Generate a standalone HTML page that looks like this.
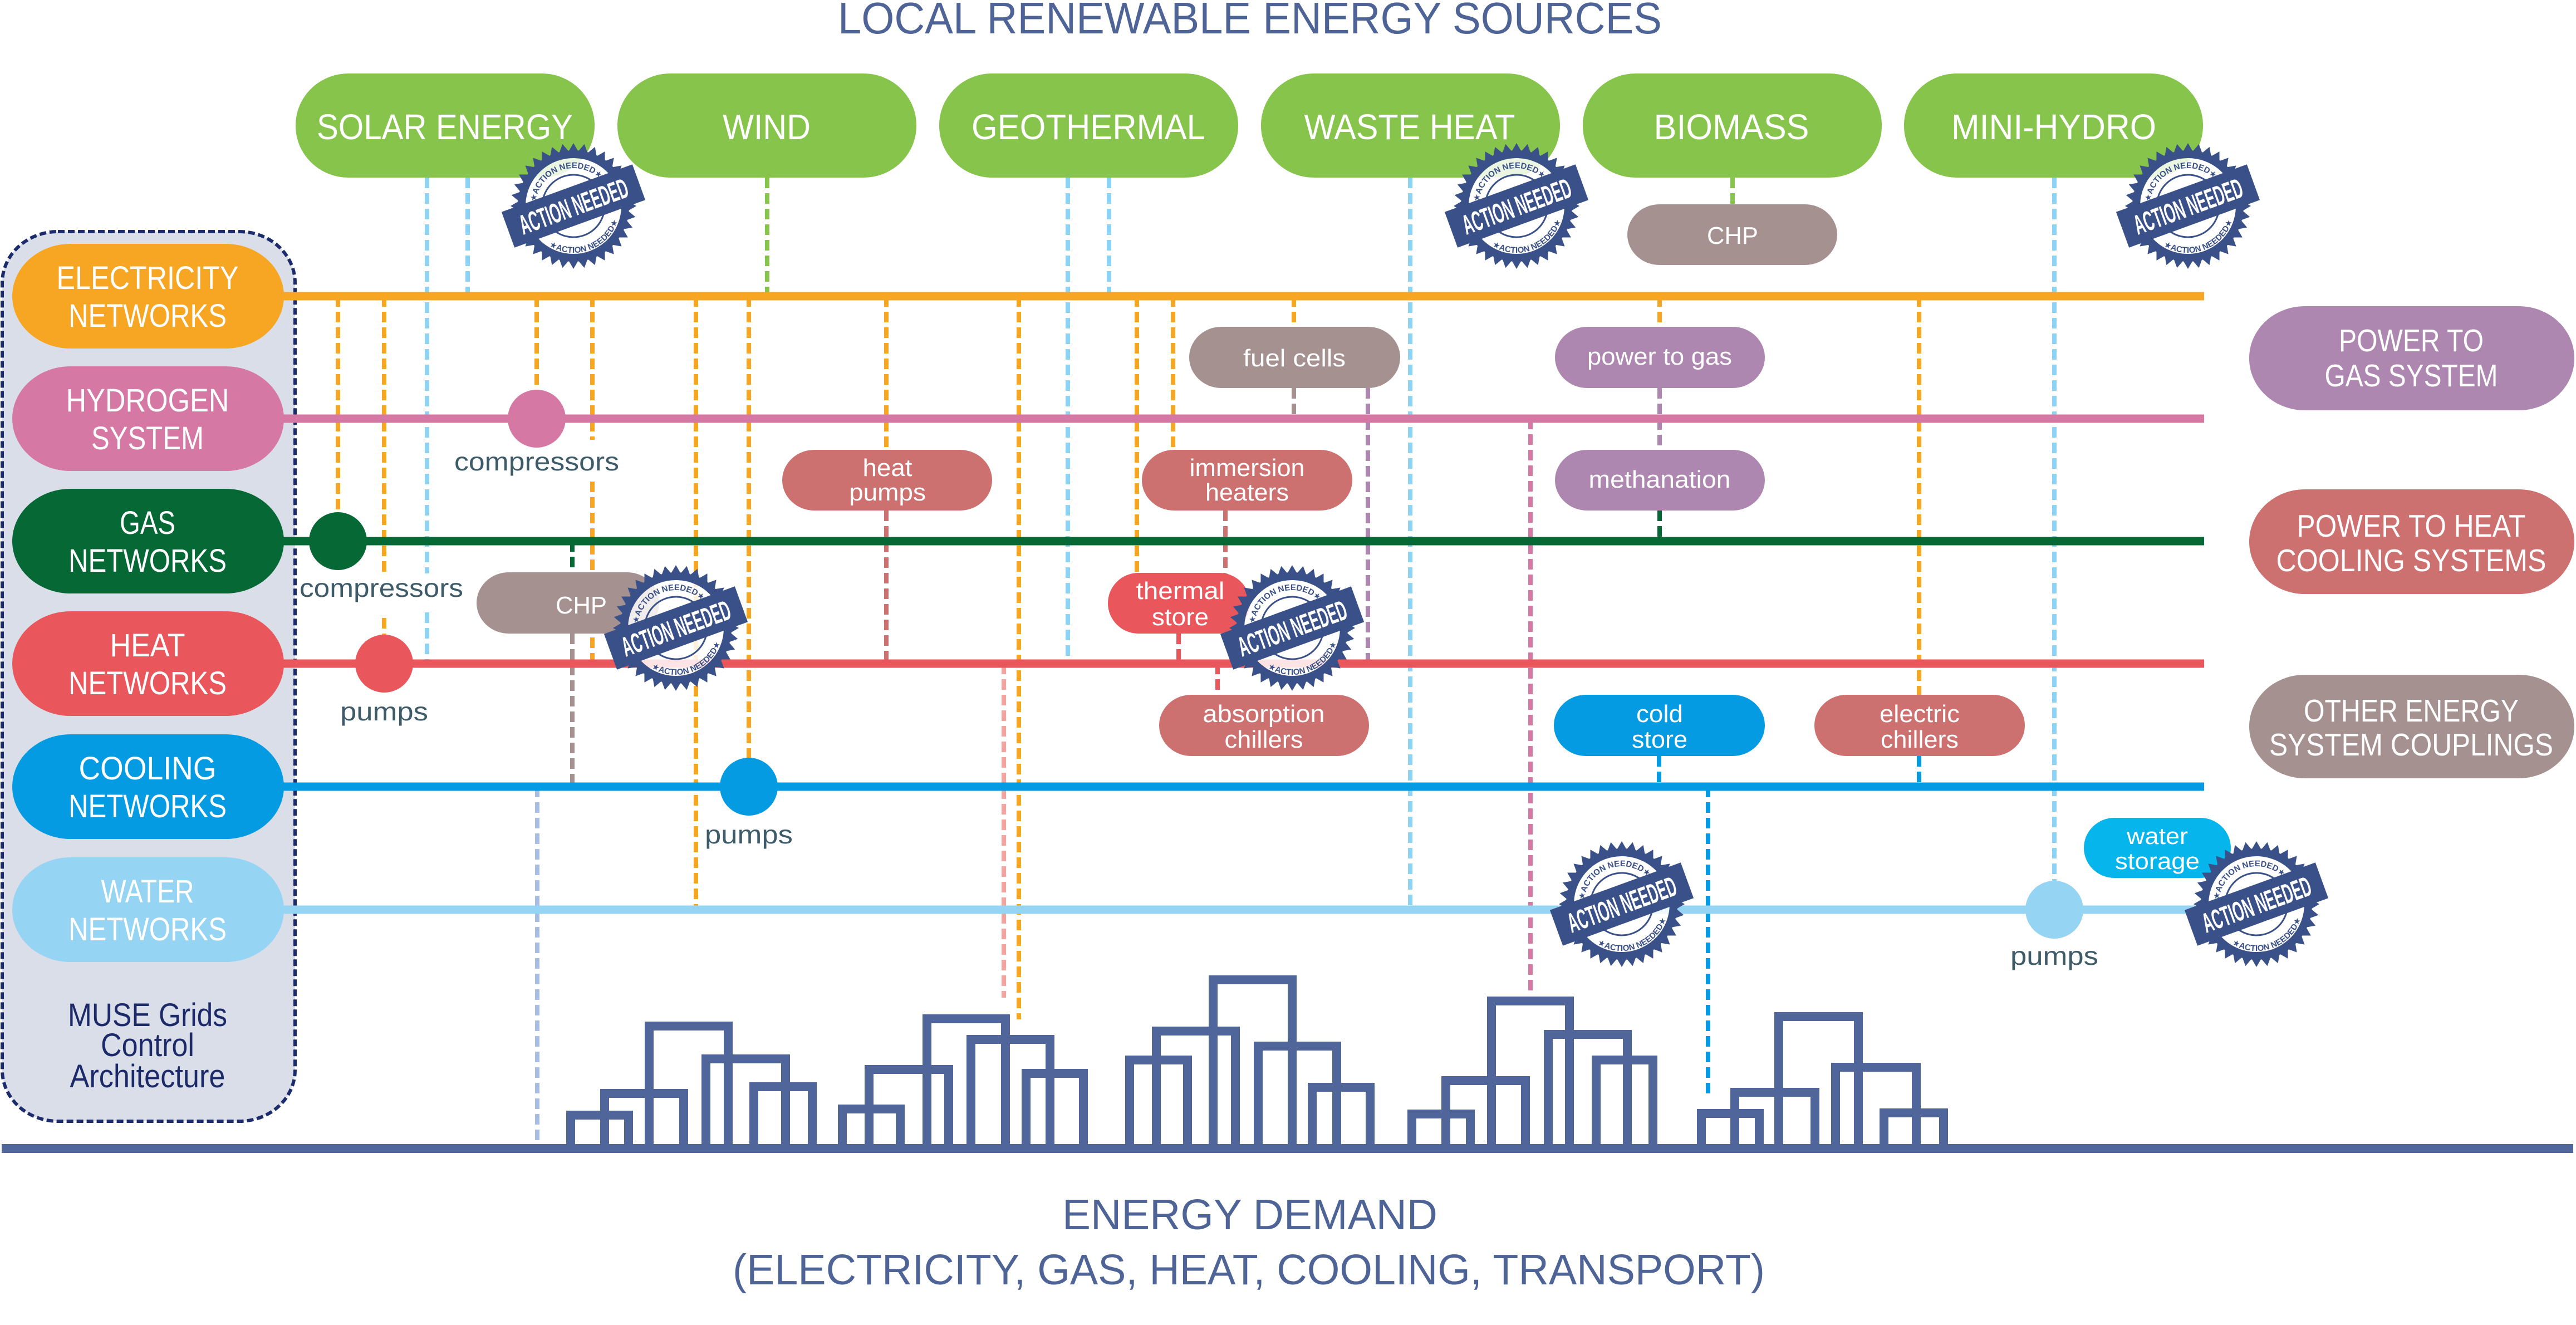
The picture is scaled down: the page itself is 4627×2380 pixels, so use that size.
<!DOCTYPE html>
<html><head><meta charset="utf-8"><style>
html,body{margin:0;padding:0;background:#fff;}
svg{display:block;}
text{font-family:"Liberation Sans","DejaVu Sans",sans-serif;}
</style></head><body>
<svg width="4627" height="2380" viewBox="0 0 4627 2380">
<defs>
<path id="aT" d="M -58.9,34 A 68 68 0 1 1 58.9 34"/>
<path id="aB" d="M -72.7,-42 A 84 84 0 1 0 72.7 -42"/>
<g id="teeth" fill="#3a5088">
<path d="M-8.7,-98 L0,-113 L8.7,-98Z" transform="rotate(0)"/>
<path d="M-8.7,-98 L0,-113 L8.7,-98Z" transform="rotate(10)"/>
<path d="M-8.7,-98 L0,-113 L8.7,-98Z" transform="rotate(20)"/>
<path d="M-8.7,-98 L0,-113 L8.7,-98Z" transform="rotate(30)"/>
<path d="M-8.7,-98 L0,-113 L8.7,-98Z" transform="rotate(40)"/>
<path d="M-8.7,-98 L0,-113 L8.7,-98Z" transform="rotate(50)"/>
<path d="M-8.7,-98 L0,-113 L8.7,-98Z" transform="rotate(60)"/>
<path d="M-8.7,-98 L0,-113 L8.7,-98Z" transform="rotate(70)"/>
<path d="M-8.7,-98 L0,-113 L8.7,-98Z" transform="rotate(80)"/>
<path d="M-8.7,-98 L0,-113 L8.7,-98Z" transform="rotate(90)"/>
<path d="M-8.7,-98 L0,-113 L8.7,-98Z" transform="rotate(100)"/>
<path d="M-8.7,-98 L0,-113 L8.7,-98Z" transform="rotate(110)"/>
<path d="M-8.7,-98 L0,-113 L8.7,-98Z" transform="rotate(120)"/>
<path d="M-8.7,-98 L0,-113 L8.7,-98Z" transform="rotate(130)"/>
<path d="M-8.7,-98 L0,-113 L8.7,-98Z" transform="rotate(140)"/>
<path d="M-8.7,-98 L0,-113 L8.7,-98Z" transform="rotate(150)"/>
<path d="M-8.7,-98 L0,-113 L8.7,-98Z" transform="rotate(160)"/>
<path d="M-8.7,-98 L0,-113 L8.7,-98Z" transform="rotate(170)"/>
<path d="M-8.7,-98 L0,-113 L8.7,-98Z" transform="rotate(180)"/>
<path d="M-8.7,-98 L0,-113 L8.7,-98Z" transform="rotate(190)"/>
<path d="M-8.7,-98 L0,-113 L8.7,-98Z" transform="rotate(200)"/>
<path d="M-8.7,-98 L0,-113 L8.7,-98Z" transform="rotate(210)"/>
<path d="M-8.7,-98 L0,-113 L8.7,-98Z" transform="rotate(220)"/>
<path d="M-8.7,-98 L0,-113 L8.7,-98Z" transform="rotate(230)"/>
<path d="M-8.7,-98 L0,-113 L8.7,-98Z" transform="rotate(240)"/>
<path d="M-8.7,-98 L0,-113 L8.7,-98Z" transform="rotate(250)"/>
<path d="M-8.7,-98 L0,-113 L8.7,-98Z" transform="rotate(260)"/>
<path d="M-8.7,-98 L0,-113 L8.7,-98Z" transform="rotate(270)"/>
<path d="M-8.7,-98 L0,-113 L8.7,-98Z" transform="rotate(280)"/>
<path d="M-8.7,-98 L0,-113 L8.7,-98Z" transform="rotate(290)"/>
<path d="M-8.7,-98 L0,-113 L8.7,-98Z" transform="rotate(300)"/>
<path d="M-8.7,-98 L0,-113 L8.7,-98Z" transform="rotate(310)"/>
<path d="M-8.7,-98 L0,-113 L8.7,-98Z" transform="rotate(320)"/>
<path d="M-8.7,-98 L0,-113 L8.7,-98Z" transform="rotate(330)"/>
<path d="M-8.7,-98 L0,-113 L8.7,-98Z" transform="rotate(340)"/>
<path d="M-8.7,-98 L0,-113 L8.7,-98Z" transform="rotate(350)"/>
</g>
</defs>
<rect x="0" y="0" width="4627" height="2380" fill="#fff"/>

<!-- left control box -->
<rect x="4" y="416" width="526" height="1598" rx="100" ry="92" fill="#d9dee8" stroke="#1c2b6b" stroke-width="6" stroke-dasharray="12 6"/>

<!-- dashed verticals -->
<g stroke-width="8" stroke-dasharray="19 9" fill="none">
<path stroke="#8dd3f5" d="M767 319V1030M767 1100V1192M840 319V532M1918 319V1192M1992 319V532M2533 319V1634M3690 319V1634"/>
<path stroke="#86c44b" d="M1378 319V532M3112 319V367"/>
<path stroke="#f6a623" d="M607 532V972M690 532V1030M690 1110V1192M964 532V752M1064 532V790M1064 865V1192M1250 532V1634M1345 532V1413M1592 532V808M1830 532V1831M2042 532V1029M2107 532V808M2324 532V587M2981 532V587M3447 532V1248"/>
<path stroke="#cd7070" d="M1592 917V1192M2201 917V1030"/>
<path stroke="#056835" d="M1028 972V1028M2981 917V972"/>
<path stroke="#a69191" d="M1028 1138V1413M2324 697V752"/>
<path stroke="#a8bde3" d="M965 1413V2055"/>
<path stroke="#f4a39e" d="M1803 1192V1792"/>
<path stroke="#e9565b" d="M2117 1138V1192M2187 1192V1248"/>
<path stroke="#ad87b0" d="M2457 697V1192M2981 697V808"/>
<path stroke="#d578a3" d="M2749 752V1787"/>
<path stroke="#059be2" d="M2980 1358V1413M3068 1413V1972M3447 1358V1413"/>
</g>

<!-- horizontal network lines -->
<g stroke-width="15" fill="none">
<path stroke="#f6a623" d="M500 532H3959"/>
<path stroke="#d578a3" d="M500 752H3959"/>
<path stroke="#056835" d="M500 972H3959"/>
<path stroke="#e9565b" d="M500 1192H3959"/>
<path stroke="#059be2" d="M500 1413H3959"/>
<path stroke="#96d4f4" d="M500 1634H3959"/>
</g>

<!-- network pills -->
<g fill="#fff" font-size="58" text-anchor="middle">
<rect x="22" y="438" width="488" height="188" rx="105" ry="94" fill="#f6a623"/>
<text x="265" y="519" textLength="327" lengthAdjust="spacingAndGlyphs">ELECTRICITY</text>
<text x="265" y="587" textLength="284" lengthAdjust="spacingAndGlyphs">NETWORKS</text>
<rect x="22" y="658" width="488" height="188" rx="105" ry="94" fill="#d578a3"/>
<text x="265" y="739" textLength="293" lengthAdjust="spacingAndGlyphs">HYDROGEN</text>
<text x="265" y="807" textLength="202" lengthAdjust="spacingAndGlyphs">SYSTEM</text>
<rect x="22" y="878" width="488" height="188" rx="105" ry="94" fill="#056835"/>
<text x="265" y="959" textLength="100" lengthAdjust="spacingAndGlyphs">GAS</text>
<text x="265" y="1027" textLength="284" lengthAdjust="spacingAndGlyphs">NETWORKS</text>
<rect x="22" y="1098" width="488" height="188" rx="105" ry="94" fill="#e9565b"/>
<text x="265" y="1179" textLength="135" lengthAdjust="spacingAndGlyphs">HEAT</text>
<text x="265" y="1247" textLength="284" lengthAdjust="spacingAndGlyphs">NETWORKS</text>
<rect x="22" y="1319" width="488" height="188" rx="105" ry="94" fill="#059be2"/>
<text x="265" y="1400" textLength="247" lengthAdjust="spacingAndGlyphs">COOLING</text>
<text x="265" y="1468" textLength="284" lengthAdjust="spacingAndGlyphs">NETWORKS</text>
<rect x="22" y="1540" width="488" height="188" rx="105" ry="94" fill="#96d4f4"/>
<text x="265" y="1621" textLength="167" lengthAdjust="spacingAndGlyphs">WATER</text>
<text x="265" y="1689" textLength="284" lengthAdjust="spacingAndGlyphs">NETWORKS</text>
</g>

<g fill="#1c2a6a" font-size="58" text-anchor="middle">
<text x="265" y="1843" textLength="286" lengthAdjust="spacingAndGlyphs">MUSE Grids</text>
<text x="265" y="1897" textLength="168" lengthAdjust="spacingAndGlyphs">Control</text>
<text x="265" y="1953" textLength="279" lengthAdjust="spacingAndGlyphs">Architecture</text>
</g>

<!-- green source pills -->
<g fill="#fff" font-size="64" text-anchor="middle">
<rect x="531" y="132" width="537" height="187" rx="95" ry="93" fill="#86c44b"/>
<text x="799" y="250" textLength="460" lengthAdjust="spacingAndGlyphs">SOLAR ENERGY</text>
<rect x="1109" y="132" width="537" height="187" rx="95" ry="93" fill="#86c44b"/>
<text x="1377" y="250" textLength="158" lengthAdjust="spacingAndGlyphs">WIND</text>
<rect x="1687" y="132" width="537" height="187" rx="95" ry="93" fill="#86c44b"/>
<text x="1955" y="250" textLength="420" lengthAdjust="spacingAndGlyphs">GEOTHERMAL</text>
<rect x="2265" y="132" width="537" height="187" rx="95" ry="93" fill="#86c44b"/>
<text x="2532" y="250" textLength="379" lengthAdjust="spacingAndGlyphs">WASTE HEAT</text>
<rect x="2843" y="132" width="537" height="187" rx="95" ry="93" fill="#86c44b"/>
<text x="3110" y="250" textLength="279" lengthAdjust="spacingAndGlyphs">BIOMASS</text>
<rect x="3420" y="132" width="537" height="187" rx="95" ry="93" fill="#86c44b"/>
<text x="3689" y="250" textLength="368" lengthAdjust="spacingAndGlyphs">MINI-HYDRO</text>
</g>

<!-- right side pills -->
<g fill="#fff" font-size="57" text-anchor="middle">
<rect x="4040" y="550" width="584" height="187" rx="100" ry="93" fill="#ad87b0"/>
<text x="4331" y="631" textLength="260" lengthAdjust="spacingAndGlyphs">POWER TO</text>
<text x="4331" y="694" textLength="311" lengthAdjust="spacingAndGlyphs">GAS SYSTEM</text>
<rect x="4040" y="879" width="584" height="188" rx="100" ry="94" fill="#cd7070"/>
<text x="4331" y="964" textLength="411" lengthAdjust="spacingAndGlyphs">POWER TO HEAT</text>
<text x="4331" y="1026" textLength="485" lengthAdjust="spacingAndGlyphs">COOLING SYSTEMS</text>
<rect x="4040" y="1212" width="584" height="186" rx="100" ry="93" fill="#a69191"/>
<text x="4331" y="1296" textLength="386" lengthAdjust="spacingAndGlyphs">OTHER ENERGY</text>
<text x="4331" y="1357" textLength="510" lengthAdjust="spacingAndGlyphs">SYSTEM COUPLINGS</text>
</g>

<!-- small component pills -->
<g fill="#fff" font-size="44" text-anchor="middle">
<rect x="1405" y="808" width="377" height="109" rx="58" ry="55" fill="#cd7070"/>
<text x="1594" y="855" textLength="89" lengthAdjust="spacingAndGlyphs">heat</text>
<text x="1594" y="899" textLength="138" lengthAdjust="spacingAndGlyphs">pumps</text>
<rect x="2136" y="587" width="379" height="110" rx="58" ry="55" fill="#a69191"/>
<text x="2325" y="658" textLength="184" lengthAdjust="spacingAndGlyphs">fuel cells</text>
<rect x="2793" y="587" width="377" height="110" rx="58" ry="55" fill="#ad87b0"/>
<text x="2981" y="655" textLength="260" lengthAdjust="spacingAndGlyphs">power to gas</text>
<rect x="2793" y="808" width="377" height="109" rx="58" ry="55" fill="#ad87b0"/>
<text x="2981" y="876" textLength="255" lengthAdjust="spacingAndGlyphs">methanation</text>
<rect x="2051" y="808" width="378" height="109" rx="58" ry="55" fill="#cd7070"/>
<text x="2240" y="855" textLength="207" lengthAdjust="spacingAndGlyphs">immersion</text>
<text x="2240" y="899" textLength="150" lengthAdjust="spacingAndGlyphs">heaters</text>
<rect x="2923" y="367" width="377" height="109" rx="58" ry="55" fill="#a69191"/>
<text x="3112" y="438" textLength="92" lengthAdjust="spacingAndGlyphs">CHP</text>
<rect x="856" y="1028" width="328" height="110" rx="58" ry="55" fill="#a69191"/>
<text x="1044" y="1102" textLength="92" lengthAdjust="spacingAndGlyphs">CHP</text>
<rect x="1990" y="1029" width="255" height="109" rx="55" ry="55" fill="#e9565b"/>
<text x="2120" y="1076" textLength="159" lengthAdjust="spacingAndGlyphs">thermal</text>
<text x="2120" y="1123" textLength="102" lengthAdjust="spacingAndGlyphs">store</text>
<rect x="2082" y="1248" width="377" height="110" rx="58" ry="55" fill="#cd7070"/>
<text x="2270" y="1297" textLength="219" lengthAdjust="spacingAndGlyphs">absorption</text>
<text x="2270" y="1343" textLength="141" lengthAdjust="spacingAndGlyphs">chillers</text>
<rect x="2791" y="1248" width="379" height="110" rx="58" ry="55" fill="#059be2"/>
<text x="2981" y="1297" textLength="84" lengthAdjust="spacingAndGlyphs">cold</text>
<text x="2981" y="1343" textLength="100" lengthAdjust="spacingAndGlyphs">store</text>
<rect x="3259" y="1248" width="378" height="110" rx="58" ry="55" fill="#cd7070"/>
<text x="3448" y="1297" textLength="144" lengthAdjust="spacingAndGlyphs">electric</text>
<text x="3448" y="1343" textLength="140" lengthAdjust="spacingAndGlyphs">chillers</text>
<rect x="3743" y="1469" width="264" height="108" rx="55" ry="54" fill="#05b5ec"/>
<text x="3875" y="1516" font-size="42" textLength="110" lengthAdjust="spacingAndGlyphs">water</text>
<text x="3875" y="1561" font-size="42" textLength="152" lengthAdjust="spacingAndGlyphs">storage</text>
</g>

<!-- junction circles -->
<circle cx="607" cy="972" r="52" fill="#056835"/>
<circle cx="690" cy="1192" r="52" fill="#e9565b"/>
<circle cx="964" cy="752" r="52" fill="#d578a3"/>
<circle cx="1345" cy="1413" r="52" fill="#059be2"/>
<circle cx="3690" cy="1634" r="52" fill="#96d4f4"/>

<!-- labels -->
<g fill="#3e5b69" font-size="46" text-anchor="middle">
<text x="964" y="845" textLength="296" lengthAdjust="spacingAndGlyphs">compressors</text>
<text x="685" y="1072" textLength="294" lengthAdjust="spacingAndGlyphs">compressors</text>
<text x="690" y="1294" textLength="158" lengthAdjust="spacingAndGlyphs">pumps</text>
<text x="1345" y="1515" textLength="158" lengthAdjust="spacingAndGlyphs">pumps</text>
<text x="3690" y="1733" textLength="158" lengthAdjust="spacingAndGlyphs">pumps</text>
</g>

<!-- city skyline -->
<g fill="none" stroke="#50659a" stroke-width="16">
<path d="M3 2063H4622"/>
<rect x="1025" y="2003" width="104" height="60"/>
<rect x="1086" y="1964" width="142" height="99"/>
<rect x="1166" y="1843" width="142" height="220"/>
<rect x="1268" y="1902" width="143" height="161"/>
<rect x="1354" y="1952" width="105" height="111"/>
<rect x="1513" y="1992" width="104" height="71"/>
<rect x="1561" y="1921" width="143" height="142"/>
<rect x="1665" y="1830" width="141" height="233"/>
<rect x="1744" y="1867" width="142" height="196"/>
<rect x="1843" y="1928" width="103" height="135"/>
<rect x="2029" y="1904" width="104" height="159"/>
<rect x="2077" y="1852" width="142" height="211"/>
<rect x="2179" y="1760" width="142" height="303"/>
<rect x="2260" y="1879" width="141" height="184"/>
<rect x="2357" y="1953" width="104" height="110"/>
<rect x="2536" y="2001" width="105" height="62"/>
<rect x="2597" y="1941" width="143" height="122"/>
<rect x="2679" y="1798" width="140" height="265"/>
<rect x="2781" y="1858" width="142" height="205"/>
<rect x="2867" y="1904" width="102" height="159"/>
<rect x="3056" y="2000" width="104" height="63"/>
<rect x="3116" y="1962" width="144" height="101"/>
<rect x="3195" y="1826" width="143" height="237"/>
<rect x="3297" y="1917" width="145" height="146"/>
<rect x="3384" y="1999" width="107" height="64"/>
</g>

<!-- titles -->
<g fill="#4e6497" text-anchor="middle">
<text x="2245" y="60" font-size="80" textLength="1480" lengthAdjust="spacingAndGlyphs">LOCAL RENEWABLE ENERGY SOURCES</text>
<text x="2245" y="2208" font-size="77" textLength="674" lengthAdjust="spacingAndGlyphs">ENERGY DEMAND</text>
<text x="2243" y="2307" font-size="77" textLength="1854" lengthAdjust="spacingAndGlyphs">(ELECTRICITY, GAS, HEAT, COOLING, TRANSPORT)</text>
</g>

<!-- stamps -->
<g transform="translate(1030 370) rotate(-20)">
<use href="#teeth"/>
<circle r="86" fill="#fff" fill-opacity="0.84"/>
<circle r="93" fill="none" stroke="#3a5088" stroke-width="14"/>
<circle r="56" fill="none" stroke="#3a5088" stroke-width="3"/>
<text font-size="15" font-weight="bold" fill="#3a5088"><textPath href="#aT" startOffset="50%" text-anchor="middle">★ACTION NEEDED★</textPath></text>
<text font-size="15" font-weight="bold" fill="#3a5088"><textPath href="#aB" startOffset="50%" text-anchor="middle">★ACTION NEEDED★</textPath></text>
<rect x="-125" y="-34" width="250" height="68" fill="#3a5088"/>
<text x="0" y="18" text-anchor="middle" font-size="50" font-weight="bold" fill="#fff" textLength="205" lengthAdjust="spacingAndGlyphs">ACTION NEEDED</text>
</g>
<g transform="translate(2724 370) rotate(-20)">
<use href="#teeth"/>
<circle r="86" fill="#fff" fill-opacity="0.84"/>
<circle r="93" fill="none" stroke="#3a5088" stroke-width="14"/>
<circle r="56" fill="none" stroke="#3a5088" stroke-width="3"/>
<text font-size="15" font-weight="bold" fill="#3a5088"><textPath href="#aT" startOffset="50%" text-anchor="middle">★ACTION NEEDED★</textPath></text>
<text font-size="15" font-weight="bold" fill="#3a5088"><textPath href="#aB" startOffset="50%" text-anchor="middle">★ACTION NEEDED★</textPath></text>
<rect x="-125" y="-34" width="250" height="68" fill="#3a5088"/>
<text x="0" y="18" text-anchor="middle" font-size="50" font-weight="bold" fill="#fff" textLength="205" lengthAdjust="spacingAndGlyphs">ACTION NEEDED</text>
</g>
<g transform="translate(3930 370) rotate(-20)">
<use href="#teeth"/>
<circle r="86" fill="#fff" fill-opacity="0.84"/>
<circle r="93" fill="none" stroke="#3a5088" stroke-width="14"/>
<circle r="56" fill="none" stroke="#3a5088" stroke-width="3"/>
<text font-size="15" font-weight="bold" fill="#3a5088"><textPath href="#aT" startOffset="50%" text-anchor="middle">★ACTION NEEDED★</textPath></text>
<text font-size="15" font-weight="bold" fill="#3a5088"><textPath href="#aB" startOffset="50%" text-anchor="middle">★ACTION NEEDED★</textPath></text>
<rect x="-125" y="-34" width="250" height="68" fill="#3a5088"/>
<text x="0" y="18" text-anchor="middle" font-size="50" font-weight="bold" fill="#fff" textLength="205" lengthAdjust="spacingAndGlyphs">ACTION NEEDED</text>
</g>
<g transform="translate(1214 1128) rotate(-20)">
<use href="#teeth"/>
<circle r="86" fill="#fff" fill-opacity="0.84"/>
<circle r="93" fill="none" stroke="#3a5088" stroke-width="14"/>
<circle r="56" fill="none" stroke="#3a5088" stroke-width="3"/>
<text font-size="15" font-weight="bold" fill="#3a5088"><textPath href="#aT" startOffset="50%" text-anchor="middle">★ACTION NEEDED★</textPath></text>
<text font-size="15" font-weight="bold" fill="#3a5088"><textPath href="#aB" startOffset="50%" text-anchor="middle">★ACTION NEEDED★</textPath></text>
<rect x="-125" y="-34" width="250" height="68" fill="#3a5088"/>
<text x="0" y="18" text-anchor="middle" font-size="50" font-weight="bold" fill="#fff" textLength="205" lengthAdjust="spacingAndGlyphs">ACTION NEEDED</text>
</g>
<g transform="translate(2321 1128) rotate(-20)">
<use href="#teeth"/>
<circle r="86" fill="#fff" fill-opacity="0.84"/>
<circle r="93" fill="none" stroke="#3a5088" stroke-width="14"/>
<circle r="56" fill="none" stroke="#3a5088" stroke-width="3"/>
<text font-size="15" font-weight="bold" fill="#3a5088"><textPath href="#aT" startOffset="50%" text-anchor="middle">★ACTION NEEDED★</textPath></text>
<text font-size="15" font-weight="bold" fill="#3a5088"><textPath href="#aB" startOffset="50%" text-anchor="middle">★ACTION NEEDED★</textPath></text>
<rect x="-125" y="-34" width="250" height="68" fill="#3a5088"/>
<text x="0" y="18" text-anchor="middle" font-size="50" font-weight="bold" fill="#fff" textLength="205" lengthAdjust="spacingAndGlyphs">ACTION NEEDED</text>
</g>
<g transform="translate(2913 1624) rotate(-20)">
<use href="#teeth"/>
<circle r="86" fill="#fff" fill-opacity="0.84"/>
<circle r="93" fill="none" stroke="#3a5088" stroke-width="14"/>
<circle r="56" fill="none" stroke="#3a5088" stroke-width="3"/>
<text font-size="15" font-weight="bold" fill="#3a5088"><textPath href="#aT" startOffset="50%" text-anchor="middle">★ACTION NEEDED★</textPath></text>
<text font-size="15" font-weight="bold" fill="#3a5088"><textPath href="#aB" startOffset="50%" text-anchor="middle">★ACTION NEEDED★</textPath></text>
<rect x="-125" y="-34" width="250" height="68" fill="#3a5088"/>
<text x="0" y="18" text-anchor="middle" font-size="50" font-weight="bold" fill="#fff" textLength="205" lengthAdjust="spacingAndGlyphs">ACTION NEEDED</text>
</g>
<g transform="translate(4053 1624) rotate(-20)">
<use href="#teeth"/>
<circle r="86" fill="#fff" fill-opacity="0.84"/>
<circle r="93" fill="none" stroke="#3a5088" stroke-width="14"/>
<circle r="56" fill="none" stroke="#3a5088" stroke-width="3"/>
<text font-size="15" font-weight="bold" fill="#3a5088"><textPath href="#aT" startOffset="50%" text-anchor="middle">★ACTION NEEDED★</textPath></text>
<text font-size="15" font-weight="bold" fill="#3a5088"><textPath href="#aB" startOffset="50%" text-anchor="middle">★ACTION NEEDED★</textPath></text>
<rect x="-125" y="-34" width="250" height="68" fill="#3a5088"/>
<text x="0" y="18" text-anchor="middle" font-size="50" font-weight="bold" fill="#fff" textLength="205" lengthAdjust="spacingAndGlyphs">ACTION NEEDED</text>
</g>
</svg>
</body></html>
